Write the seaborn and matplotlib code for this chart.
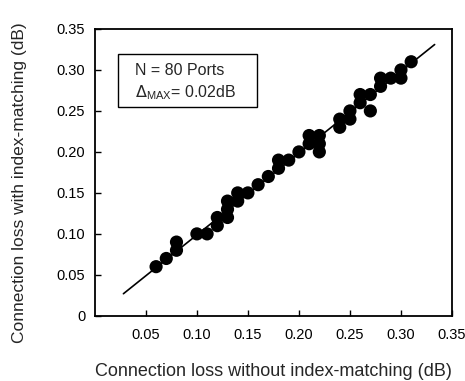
import numpy as np
import pandas as pd
import seaborn as sns
import matplotlib.pyplot as plt

# valores (dB)
loss_without = [0.06, 0.07, 0.08, 0.08, 0.10, 0.11, 0.12, 0.12, 0.13, 0.13,
                0.13, 0.14, 0.14, 0.15, 0.16, 0.17, 0.18, 0.18, 0.19, 0.20,
                0.21, 0.21, 0.22, 0.22, 0.22, 0.24, 0.24, 0.25, 0.25, 0.26,
                0.26, 0.27, 0.27, 0.28, 0.28, 0.29, 0.30, 0.30, 0.31]
loss_with = [0.06, 0.07, 0.08, 0.09, 0.10, 0.10, 0.11, 0.12, 0.12, 0.13,
             0.14, 0.14, 0.15, 0.15, 0.16, 0.17, 0.18, 0.19, 0.19, 0.20,
             0.21, 0.22, 0.22, 0.21, 0.20, 0.23, 0.24, 0.24, 0.25, 0.26,
             0.27, 0.27, 0.25, 0.28, 0.29, 0.29, 0.29, 0.30, 0.31]

# reta de referência
line_x = [0.028, 0.333]
line_y = [0.027, 0.331]

x_ticks = [0.05, 0.10, 0.15, 0.20, 0.25, 0.30, 0.35]
x_labels = ['0.05', '0.10', '0.15', '0.20', '0.25', '0.30', '0.35']
y_ticks = [0, 0.05, 0.10, 0.15, 0.20, 0.25, 0.30, 0.35]
y_labels = ['0', '0.05', '0.10', '0.15', '0.20', '0.25', '0.30', '0.35']

df = pd.DataFrame({'without': loss_without, 'with': loss_with})
df_line = pd.DataFrame({'x': line_x, 'y': line_y})

sns.set_style('white')
plt.rcParams['font.family'] = ['Liberation Sans', 'DejaVu Sans']

fig = plt.figure(figsize=(4.65, 3.81), dpi=100)
ax = fig.add_axes([0.204, 0.171, 0.768, 0.753])

sns.lineplot(data=df_line, x='x', y='y', color='black', linewidth=1.2, ax=ax)
sns.scatterplot(data=df, x='without', y='with', color='black', s=90,
                edgecolor='none', ax=ax, zorder=3)

ax.set_xlim(0, 0.35)
ax.set_ylim(0, 0.35)
ax.set_xticks(x_ticks)
ax.set_xticklabels(x_labels)
ax.set_yticks(y_ticks)
ax.set_yticklabels(y_labels)
ax.tick_params(direction='in', length=4, width=1, labelsize=10.5, colors='black',
               bottom=True, left=True, top=False, right=False)
ax.tick_params(axis='x', pad=9)
ax.tick_params(axis='y', pad=7)
for sp in ax.spines.values():
    sp.set_color('black')
    sp.set_linewidth(1.3)

ax.set_xlabel('Connection loss without index-matching (dB)', fontsize=13)
ax.set_ylabel('Connection loss with index-matching (dB)', fontsize=12.5)
ax.xaxis.set_label_coords(0.5, -0.163)
ax.yaxis.set_label_coords(-0.19, 0.465)

ax.text(0.039, 0.299, 'N = 80 Ports', fontsize=11.5, va='center', ha='left')
ax.text(0.039, 0.272, r'$\Delta_{\mathregular{MAX}}$= 0.02dB', fontsize=11.5,
        va='center', ha='left')
box = plt.Rectangle((0.023, 0.255), 0.1355, 0.065, transform=ax.transData,
                    fill=False, edgecolor='black', linewidth=1)
ax.add_patch(box)

plt.savefig('out.png', dpi=100)
